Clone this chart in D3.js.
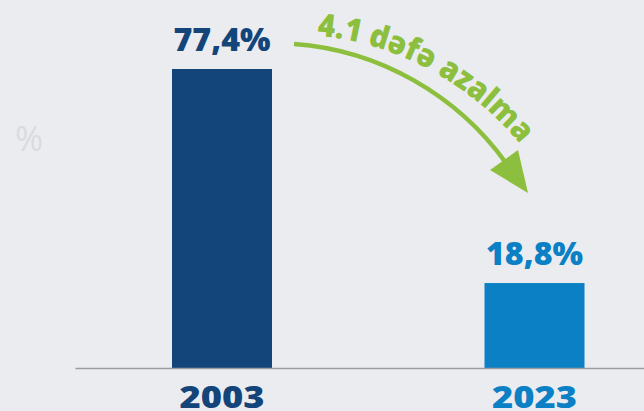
<!DOCTYPE html>
<html><head><meta charset="utf-8">
<script src="https://cdn.jsdelivr.net/npm/d3@7"></script>
<style>
html,body{margin:0;padding:0;background:#ebecf0;}
svg{display:block;}
text{font-family:"Open Sans","DejaVu Sans",sans-serif;}
</style></head>
<body>
<svg id="c" width="644" height="411"></svg>
<script>
const years = ["2003", "2023"];
const values = [77.4, 18.8];
const valueLabels = ["77,4%", "18,8%"];
const barColors = ["#13457a", "#0b80c5"];
const arrowLabel = "4.1 dəfə azalma";
const unitLabel = "%";

const W = 644, H = 411;
const svg = d3.select("#c");
svg.append("rect").attr("width", W).attr("height", H).attr("fill", "#ebecf0");

const x = d3.scaleBand().domain(years).range([75, 681.5]).paddingInner(0.68).paddingOuter(0.3104);
const y = d3.scaleLinear().domain([-4.46, 77.4]).range([368, 69]);
const base = y(-4.46);

// unit label
svg.append("text").attr("x", 29).attr("y", 151).attr("text-anchor", "middle")
  .attr("font-size", 34).attr("font-weight", 400).attr("fill", "#dadbe1").text(unitLabel);

// bars
svg.selectAll("rect.bar").data(values).join("rect").attr("class", "bar")
  .attr("x", (d, i) => x(years[i])).attr("width", x.bandwidth())
  .attr("y", d => y(d)).attr("height", d => base - y(d))
  .attr("fill", (d, i) => barColors[i]);

// value labels
svg.selectAll("text.val").data(values).join("text").attr("class", "val")
  .attr("x", (d, i) => x(years[i]) + x.bandwidth() / 2)
  .attr("y", d => y(d) - 18)
  .attr("text-anchor", "middle").attr("font-size", 31).attr("font-weight", 800)
  .attr("textLength", 97).attr("lengthAdjust", "spacingAndGlyphs")
  .attr("fill", (d, i) => barColors[i]).text((d, i) => valueLabels[i]);

// axis
const ax = svg.append("g").attr("transform", `translate(0,${base})`)
  .call(d3.axisBottom(x).tickSize(0).tickSizeOuter(0).tickPadding(0));
ax.select(".domain").attr("stroke", "#9c9ca0").attr("stroke-width", 1.5);
ax.selectAll(".tick text").attr("dy", null).attr("y", 40)
  .attr("font-size", 30).attr("font-weight", 800)
  .attr("font-family", '"Open Sans","DejaVu Sans",sans-serif')
  .attr("textLength", 85).attr("lengthAdjust", "spacingAndGlyphs")
  .attr("fill", (d, i) => barColors[i]);

// arrow
const green = "#8dbf3e";
svg.append("path").attr("d", "M294,44 C380,50 458,96 506,163")
  .attr("fill", "none").attr("stroke", green).attr("stroke-width", 4.5);
svg.append("path").attr("d", "M490,170 L518,150 L528,193 Z").attr("fill", green);

svg.append("path").attr("id", "tp").attr("d", "M317,36 C398,42 478,88 526,152").attr("fill", "none");
svg.append("text").attr("font-size", 32).attr("font-weight", 800).attr("fill", green)
  .append("textPath").attr("href", "#tp").attr("textLength", 236).attr("lengthAdjust", "spacingAndGlyphs")
  .text(arrowLabel);
</script>
</body></html>
